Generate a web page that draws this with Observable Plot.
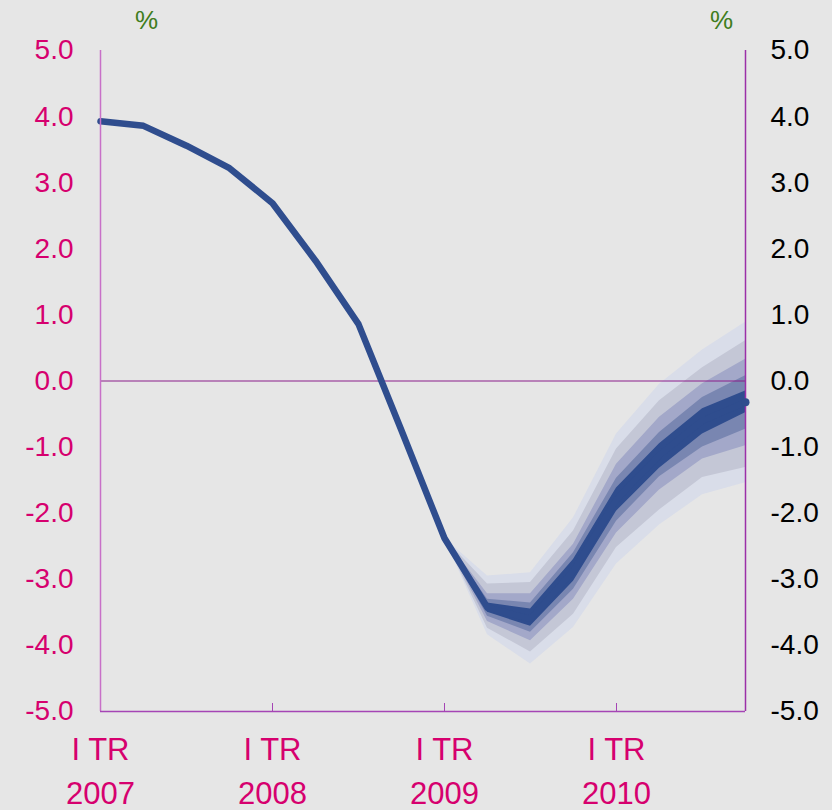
<!DOCTYPE html>
<html><head><meta charset="utf-8">
<script src="https://cdn.jsdelivr.net/npm/d3@7"></script>
<script src="https://cdn.jsdelivr.net/npm/@observablehq/plot@0.6"></script>
<style>
html,body{margin:0;padding:0;background:#e6e6e6;}
#wrap{position:relative;width:832px;height:810px;overflow:hidden;font-family:"Liberation Sans",Arial,sans-serif;}
#chart{position:absolute;left:0;top:0;}
.pct{position:absolute;top:5px;color:#3f7d1c;font-size:26px;line-height:30px;white-space:nowrap;}
</style></head><body>
<div id="wrap">
  <div id="chart"></div>
  <div class="pct" style="left:135px">%</div>
  <div class="pct" style="left:710px">%</div>
</div>
<script>
// Quarter positions: 0 = I TR 2007 ... 15 = IV TR 2010
const quarterIdx = [0,1,2,3,4,5,6,7,8,9,10,11,12,13,14,15];
// Central projection / history (%)
const gdp = [3.93, 3.86, 3.56, 3.22, 2.69, 1.82, 0.86, -0.75, -2.38, -3.43, -3.60, -2.87, -1.79, -1.12, -0.60, -0.32];

// Fan chart (from I TR 2009 onward)
const fanIdx = [8, 9, 10, 11, 12, 13, 14, 15];
const upper1 = [-2.38, -3.36, -3.45, -2.70, -1.62, -0.95, -0.42, -0.15];
const lower1 = [-2.38, -3.50, -3.71, -3.03, -1.97, -1.32, -0.80, -0.48];
const upper2 = [-2.38, -3.30, -3.36, -2.60, -1.47, -0.78, -0.25, 0.08];
const lower2 = [-2.38, -3.56, -3.80, -3.15, -2.12, -1.45, -1.00, -0.73];
const upper3 = [-2.38, -3.22, -3.22, -2.47, -1.26, -0.55, -0.04, 0.33];
const lower3 = [-2.38, -3.64, -3.93, -3.30, -2.30, -1.65, -1.18, -0.98];
const upper4 = [-2.38, -3.07, -3.05, -2.27, -1.03, -0.30, 0.20, 0.61];
const lower4 = [-2.38, -3.74, -4.10, -3.53, -2.52, -1.95, -1.46, -1.31];
const upper5 = [-2.38, -2.95, -2.90, -2.07, -0.80, -0.05, 0.47, 0.89];
const lower5 = [-2.38, -3.84, -4.28, -3.73, -2.77, -2.18, -1.72, -1.54];

// Tick labels
const yTicks = [-5, -4, -3, -2, -1, 0, 1, 2, 3, 4, 5];
const xTickIdx = [0, 4, 8, 12];
const xTickTop = ["I TR", "I TR", "I TR", "I TR"];
const xTickYear = ["2007", "2008", "2009", "2010"];

const bands = [
  {lo: lower5, hi: upper5, fill: "#d9dde9"},
  {lo: lower4, hi: upper4, fill: "#c4c7d6"},
  {lo: lower3, hi: upper3, fill: "#a3a8c9"},
  {lo: lower2, hi: upper2, fill: "#7986b1"},
  {lo: lower1, hi: upper1, fill: "#2f4d8e"}
];

const lineColor = "#2f4d8e";
const magenta = "#d6006e";
const fmt = d => d.toFixed(1);

const chart = Plot.plot({
  width: 832,
  height: 810,
  marginLeft: 100,
  marginRight: 87,
  marginTop: 50,
  marginBottom: 99,
  style: {background: "transparent", fontFamily: "'Liberation Sans', Arial, sans-serif"},
  x: {domain: [0, 15], axis: null},
  y: {domain: [-5, 5], label: null},
  marks: [
    ...bands.map(b => Plot.areaY(fanIdx, {x: d => d, y1: (d, i) => b.lo[i], y2: (d, i) => b.hi[i], fill: b.fill})),
    Plot.ruleY([0], {stroke: "#8a1c8a", strokeWidth: 1}),
    Plot.line(quarterIdx, {x: d => d, y: (d, i) => gdp[i], stroke: lineColor, strokeWidth: 6.5, strokeLinejoin: "round"}),
    Plot.ruleX([0], {stroke: "#c870c8", strokeWidth: 1.5}),
    Plot.ruleX([15], {stroke: "#9b30a8", strokeWidth: 1.5}),
    Plot.ruleY([-5], {stroke: "#a545b5", strokeWidth: 1.5}),
    Plot.axisX(xTickIdx.slice(1), {anchor: "bottom", tickSize: -8, tickFormat: () => "", stroke: "#a545b5", strokeWidth: 1, label: null}),
    Plot.dot([15], {x: d => d, y: d => gdp[d], r: 4, fill: lineColor}),
    Plot.axisY(yTicks, {anchor: "left", tickSize: 0, tickPadding: 27, tickFormat: fmt, fontSize: 28, color: magenta}),
    Plot.axisY(yTicks, {anchor: "right", tickSize: 0, tickPadding: 25, tickFormat: fmt, fontSize: 28, color: "#000000"}),
    Plot.text(xTickIdx, {x: d => d, frameAnchor: "bottom", dy: 48, text: (d, i) => xTickTop[i], fill: magenta, fontSize: 31}),
    Plot.text(xTickIdx, {x: d => d, frameAnchor: "bottom", dy: 92, text: (d, i) => xTickYear[i], fill: magenta, fontSize: 31})
  ]
});
document.getElementById("chart").appendChild(chart);
</script>
</body></html>
